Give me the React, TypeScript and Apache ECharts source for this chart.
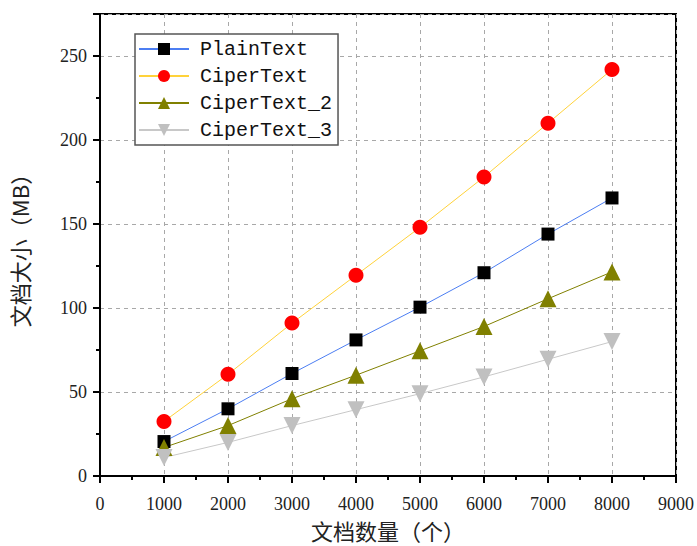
import React, { useEffect, useRef } from "react";
import * as echarts from "echarts";

const xValues = [1000, 2000, 3000, 4000, 5000, 6000, 7000, 8000];
const plainText = [20.5, 40, 61, 81, 100.5, 121, 144, 165.5];
const ciperText = [32.5, 60.5, 91, 119.5, 148, 178, 210, 242];
const ciperText2 = [17, 30, 46, 60, 74.5, 89, 105.5, 121.5];
const ciperText3 = [11, 20, 30, 39.5, 49, 59, 69.5, 80];

const seriesNames = ["PlainText", "CiperText", "CiperText_2", "CiperText_3"];

export default function App() {
  const ref = useRef<HTMLDivElement>(null);
  useEffect(() => {
    const chart = echarts.init(ref.current!, null, { renderer: "svg" });
    const pair = (arr: number[]) => xValues.map((x, i) => [x, arr[i]]);
    const tickFont = { fontFamily: "Liberation Serif", fontSize: 18, color: "#222" };
    const splitLine = { show: true, lineStyle: { color: "#a8a8a8", type: [4, 4] as any, width: 1 } };
    chart.setOption({
      animation: false,
      backgroundColor: "#fff",
      grid: {
        left: 99, right: 19, top: 14, bottom: 58,
        show: true, borderColor: "#000", borderWidth: 2, backgroundColor: "transparent",
      },
      legend: {
        orient: "vertical",
        left: 135, top: 34,
        padding: [5, 6, 5, 3],
        itemGap: 7,
        itemWidth: 50,
        itemHeight: 15,
        borderColor: "#555",
        borderWidth: 1.5,
        backgroundColor: "#fff",
        textStyle: { fontFamily: "Liberation Mono", fontSize: 20, color: "#111", padding: [0, 0, 0, 6] },
        data: seriesNames,
      },
      xAxis: {
        type: "value",
        min: 0, max: 9000, interval: 1000,
        axisLine: { show: true, lineStyle: { color: "#000", width: 2 } },
        axisTick: { show: true, inside: false, length: 7, lineStyle: { width: 2, color: "#000" } },
        minorTick: { show: true, splitNumber: 2, length: 4, lineStyle: { width: 2, color: "#000" } },
        axisLabel: { ...tickFont, margin: 19, formatter: (v: number) => String(v) },
        splitLine,
        name: "文档数量（个）",
        nameLocation: "middle",
        nameGap: 43,
        nameTextStyle: { fontFamily: "Noto Sans CJK SC", fontSize: 22, color: "#222" },
      },
      yAxis: {
        type: "value",
        min: 0, max: 275, interval: 50,
        axisLine: { show: true, lineStyle: { color: "#000", width: 2 } },
        axisTick: { show: true, inside: false, length: 7, lineStyle: { width: 2, color: "#000" } },
        minorTick: { show: true, splitNumber: 2, length: 4, lineStyle: { width: 2, color: "#000" } },
        axisLabel: { ...tickFont, margin: 13, showMaxLabel: false, formatter: (v: number) => String(v) },
        splitLine,
        name: "文档大小（MB）",
        nameLocation: "middle",
        nameGap: 70,
        nameTextStyle: { fontFamily: "Noto Sans CJK SC", fontSize: 22, color: "#222" },
      },
      series: [
        {
          name: seriesNames[0], type: "line", data: pair(plainText),
          symbol: "rect", symbolSize: 13,
          lineStyle: { color: "#4c7ef2", width: 1 },
          itemStyle: { color: "#000" },
        },
        {
          name: seriesNames[1], type: "line", data: pair(ciperText),
          symbol: "circle", symbolSize: 15,
          lineStyle: { color: "#ffd23a", width: 1 },
          itemStyle: { color: "#ff0000" },
        },
        {
          name: seriesNames[2], type: "line", data: pair(ciperText2),
          symbol: "triangle", symbolSize: 17,
          lineStyle: { color: "#808000", width: 1 },
          itemStyle: { color: "#808000" },
        },
        {
          name: seriesNames[3], type: "line", data: pair(ciperText3),
          symbol: "triangle", symbolRotate: 180, symbolSize: 17,
          lineStyle: { color: "#c8c8c8", width: 1 },
          itemStyle: { color: "#c0c0c0" },
        },
      ],
    });
    return () => chart.dispose();
  }, []);
  return <div ref={ref} style={{ width: 697, height: 546, position: "absolute", left: 0, top: 0 }} />;
}
